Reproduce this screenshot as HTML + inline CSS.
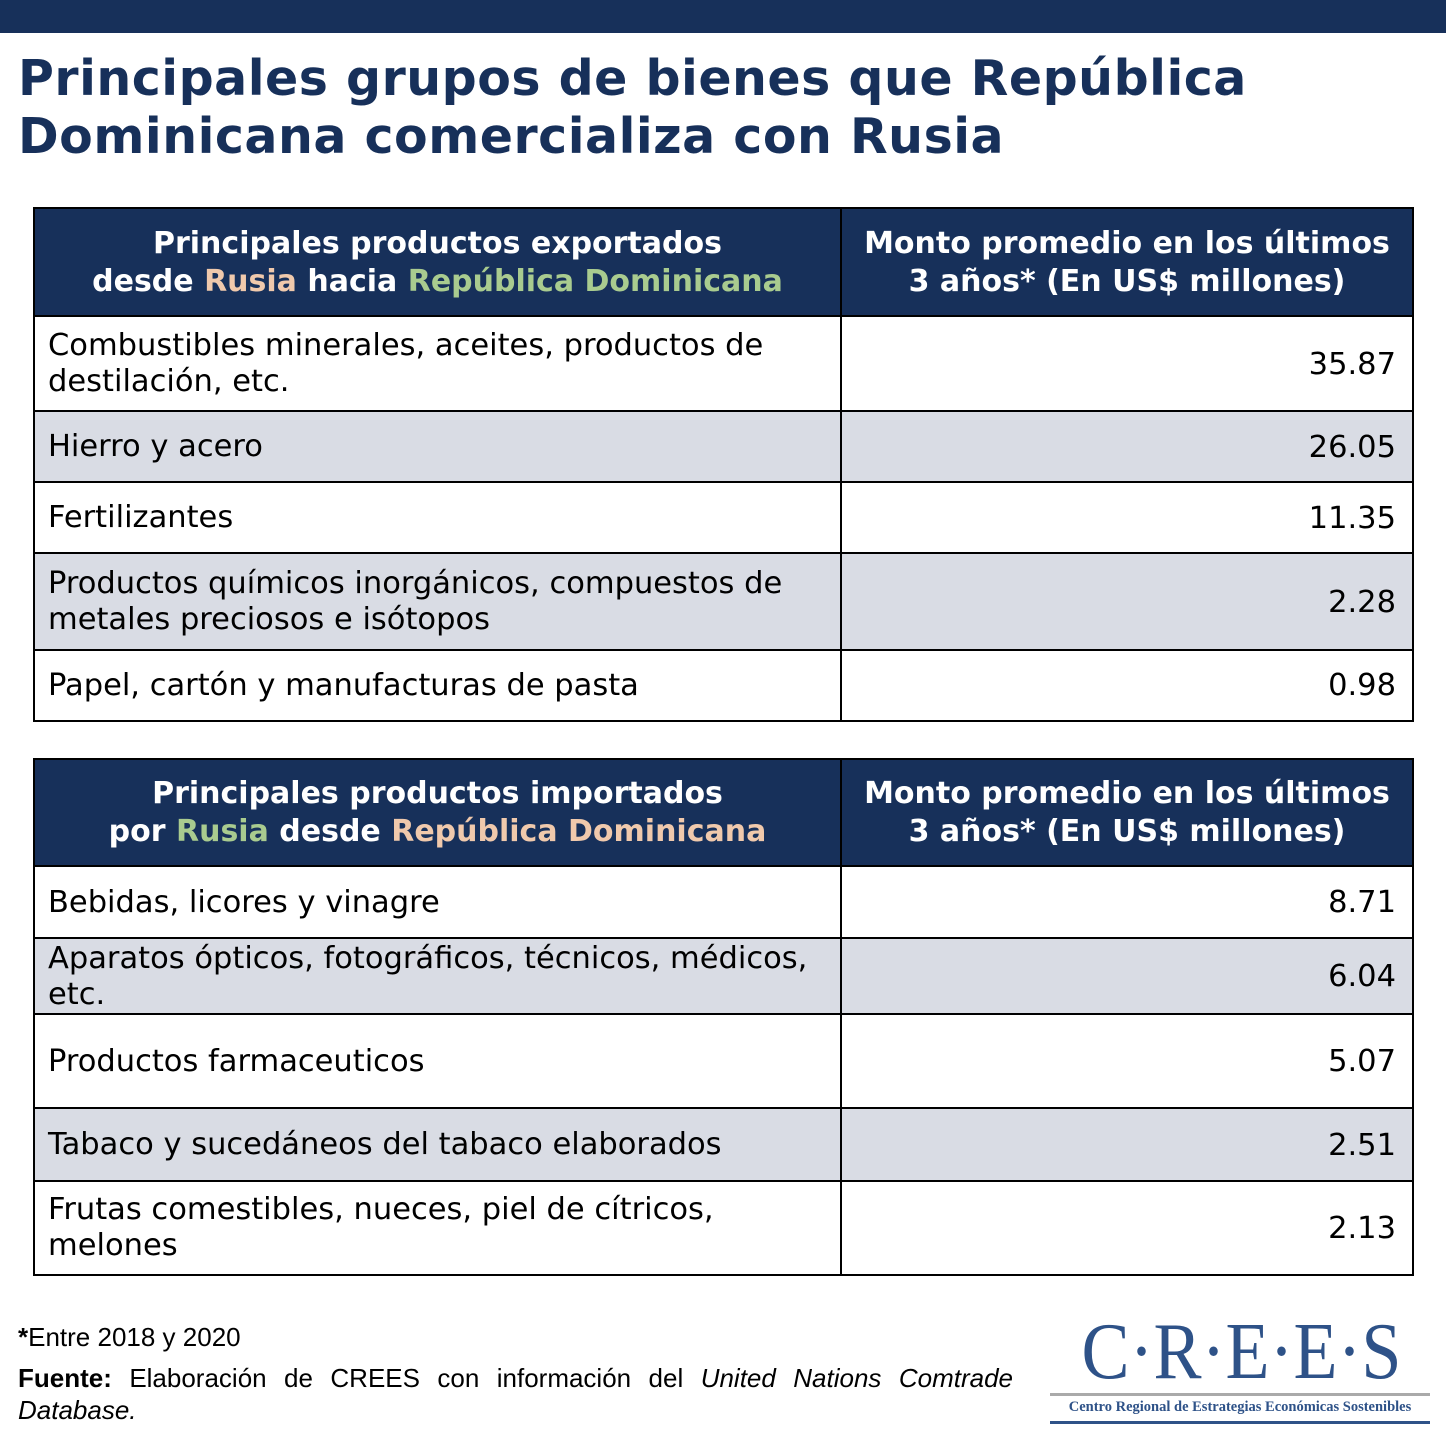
<!DOCTYPE html>
<html><head><meta charset="utf-8"><style>
*{margin:0;padding:0;box-sizing:border-box}
body{width:1446px;height:1446px;background:#fff;position:relative;overflow:hidden;font-family:"DejaVu Sans","Liberation Sans",sans-serif;color:#000}
.bar{position:absolute;left:0;top:0;width:1446px;height:33px;background:#17305a}
.title{position:absolute;left:18px;top:50px;font-size:49px;font-weight:bold;color:#17305a;line-height:58px;letter-spacing:0.5px;white-space:nowrap}
.tbl{position:absolute;left:33px;width:1381px;border:2px solid #000}
.row{position:absolute;left:0;width:1377px;border-top:2px solid #000}
.c1,.c2{position:absolute;top:0;height:100%;display:flex;align-items:center}
.c1{left:0;width:805px;padding-left:13px;font-size:30.5px;line-height:36px;white-space:nowrap}
.c2{left:805px;width:572px;border-left:2px solid #000;justify-content:flex-end;padding-right:16px;font-size:30.5px}
.hd{background:#17305a;color:#fff;font-weight:bold;border-top:none}
.hd .c1,.hd .c2{justify-content:center;text-align:center;padding:0;font-size:30px;line-height:38px;white-space:nowrap}
.g{background:#d9dce4}
.r{color:#f0c9ac}.v{color:#a9cb8f}
.foot{position:absolute;left:18px;font-family:"Liberation Sans",sans-serif;font-size:26px}
</style></head><body>
<div class="bar"></div>
<div class="title">Principales grupos de bienes que República<br>Dominicana comercializa con Rusia</div>

<div class="tbl" style="top:207px;height:515px">
<div class="row hd" style="top:0;height:107px"><div class="c1"><div>Principales productos exportados<br>desde <span class="r">Rusia</span> hacia <span class="v">República Dominicana</span></div></div><div class="c2"><div>Monto promedio en los últimos<br>3 años* (En US$ millones)</div></div></div>
<div class="row" style="top:106px;height:96px"><div class="c1"><div>Combustibles minerales, aceites, productos de<br>destilación, etc.</div></div><div class="c2">35.87</div></div>
<div class="row g" style="top:201px;height:72px"><div class="c1">Hierro y acero</div><div class="c2">26.05</div></div>
<div class="row" style="top:272px;height:72px"><div class="c1">Fertilizantes</div><div class="c2">11.35</div></div>
<div class="row g" style="top:343px;height:98px"><div class="c1"><div>Productos químicos inorgánicos, compuestos de<br>metales preciosos e isótopos</div></div><div class="c2">2.28</div></div>
<div class="row" style="top:440px;height:71px"><div class="c1">Papel, cartón y manufacturas de pasta</div><div class="c2">0.98</div></div>
</div>

<div class="tbl" style="top:758px;height:518px">
<div class="row hd" style="top:0;height:106px"><div class="c1"><div>Principales productos importados<br>por <span class="v">Rusia</span> desde <span class="r">República Dominicana</span></div></div><div class="c2"><div>Monto promedio en los últimos<br>3 años* (En US$ millones)</div></div></div>
<div class="row" style="top:105px;height:73px"><div class="c1">Bebidas, licores y vinagre</div><div class="c2">8.71</div></div>
<div class="row g" style="top:177px;height:77px"><div class="c1"><div>Aparatos ópticos, fotográficos, técnicos, médicos,<br>etc.</div></div><div class="c2">6.04</div></div>
<div class="row" style="top:253px;height:95px"><div class="c1">Productos farmaceuticos</div><div class="c2">5.07</div></div>
<div class="row g" style="top:347px;height:74px"><div class="c1">Tabaco y sucedáneos del tabaco elaborados</div><div class="c2">2.51</div></div>
<div class="row" style="top:420px;height:94px"><div class="c1"><div>Frutas comestibles, nueces, piel de cítricos,<br>melones</div></div><div class="c2">2.13</div></div>
</div>

<div class="foot" style="top:1322px"><b>*</b>Entre 2018 y 2020</div>
<div class="foot" style="top:1362px;width:995px;text-align:justify;text-align-last:justify;line-height:32px"><b>Fuente:</b> Elaboración de CREES con información del <i>United Nations Comtrade</i></div>
<div class="foot" style="top:1394px;line-height:32px"><i>Database.</i></div>

<div style="position:absolute;left:1064px;top:1312px;width:350px;text-align:center;font-family:'Liberation Serif',serif;color:#2e5288;font-size:80px;line-height:80px;transform:scaleX(0.9);transform-origin:center">C·R·E·E·S</div>
<div style="position:absolute;left:1050px;top:1393px;width:380px;height:3px;background:#aaa"></div>
<div style="position:absolute;left:1050px;top:1399px;width:380px;text-align:center;font-family:'Liberation Serif',serif;color:#2e5288;font-size:14.5px;font-weight:bold">Centro Regional de Estrategias Económicas Sostenibles</div>
<div style="position:absolute;left:1050px;top:1421px;width:380px;height:3px;background:#2e5288"></div>
</body></html>
